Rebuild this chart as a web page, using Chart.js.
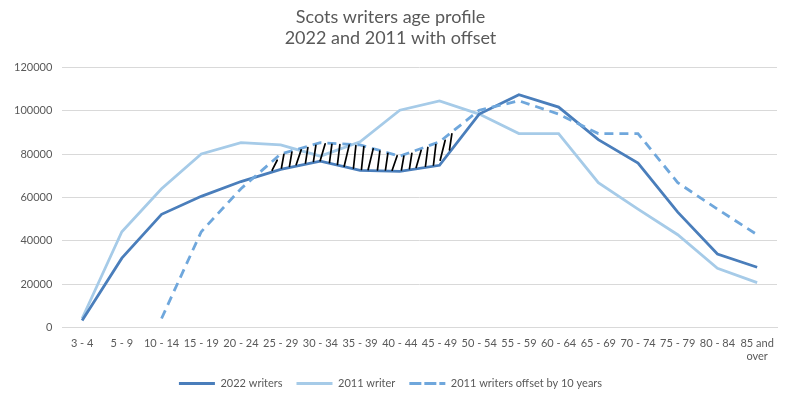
<!DOCTYPE html>
<html>
<head>
<meta charset="utf-8">
<script src="https://cdn.jsdelivr.net/npm/chart.js@4"></script>
<style>
  html, body { margin: 0; padding: 0; background: #fff; }
  #wrap { width: 787px; height: 399px; position: relative; }
</style>
</head>
<body>
<div id="wrap"><canvas id="ageChart"></canvas></div>
<script>
// ─── Data ─────────────────────────────────────────────────────────────────────
const AGE_BANDS = ['3 - 4','5 - 9','10 - 14','15 - 19','20 - 24','25 - 29','30 - 34','35 - 39',
  '40 - 44','45 - 49','50 - 54','55 - 59','60 - 64','65 - 69','70 - 74','75 - 79','80 - 84',['85 and','over']];

const WRITERS_2022 = [3300, 32000, 52200, 60500, 67300, 72900, 76700, 72500, 72000, 74800,
  98400, 107300, 101600, 86600, 75800, 53200, 33900, 27800];

const WRITERS_2011 = [4200, 44200, 64000, 80000, 85200, 84200, 79000, 85600, 100200, 104500,
  98400, 89400, 89400, 66800, 54600, 42800, 27300, 20700];

const WRITERS_2011_OFFSET = [null, null, 4200, 44200, 64000, 80000, 85200, 84200, 79000, 85600,
  100200, 104500, 98400, 89400, 89400, 66800, 54600, 42800];

const Y_TICKS = [0, 20000, 40000, 60000, 80000, 100000, 120000];

const FONT = 'Lato';
const TEXT = '#595959';

// ─── Hand-drawn hatching between offset line and 2022 line ───────────────────
const hatchPlugin = {
  id: 'hatch',
  afterDatasetsDraw(chart) {
    const top = chart.getDatasetMeta(2).data;
    const bot = chart.getDatasetMeta(0).data;
    const from = 5, to = 9;
    const { ctx } = chart;
    const yAt = (pts, x) => {
      for (let i = from - 1; i < to + 1; i++) {
        if (x >= pts[i].x && x <= pts[i + 1].x) {
          const t = (x - pts[i].x) / (pts[i + 1].x - pts[i].x);
          return pts[i].y + t * (pts[i + 1].y - pts[i].y);
        }
      }
      return pts[to].y;
    };
    ctx.save();
    ctx.strokeStyle = '#000';
    ctx.lineWidth = 1.7;
    ctx.lineCap = 'round';
    const x0 = bot[from].x - 6, x1 = bot[to].x + 12;
    let k = 0;
    for (let x = x0; x <= x1; x += 8, k++) {
      const yT = yAt(top, x) + 1;
      const yB = yAt(bot, x) - 1;
      if (yB - yT < 6) continue;
      const lean = (k % 3 === 0) ? 2.5 : 1.2;
      ctx.beginPath();
      ctx.moveTo(x - lean, yB);
      ctx.lineTo(x + lean, yT);
      ctx.stroke();
    }
    ctx.restore();
  }
};

// ─── Chart ────────────────────────────────────────────────────────────────────
const ctx = document.getElementById('ageChart').getContext('2d');
new Chart(ctx, {
  type: 'line',
  data: {
    labels: AGE_BANDS,
    datasets: [{
      label: '2022 writers',
      data: WRITERS_2022,
      borderColor: '#4a7ebb',
      backgroundColor: '#4a7ebb',
      borderWidth: 2.8,
      pointRadius: 0,
      tension: 0,
      order: 1
    }, {
      label: '2011 writer',
      data: WRITERS_2011,
      borderColor: '#a6cbe8',
      backgroundColor: '#a6cbe8',
      borderWidth: 2.8,
      pointRadius: 0,
      tension: 0,
      order: 2
    }, {
      label: '2011 writers offset by 10 years',
      data: WRITERS_2011_OFFSET,
      borderColor: '#6fa7dc',
      backgroundColor: '#6fa7dc',
      borderWidth: 2.8,
      borderDash: [9, 6],
      pointRadius: 0,
      tension: 0,
      spanGaps: false,
      order: 0
    }]
  },
  options: {
    responsive: true, maintainAspectRatio: false, animation: false,
    layout: { padding: { left: 4, right: 10, top: 4, bottom: 0 } },
    plugins: {
      title: {
        display: true,
        text: ['Scots writers age profile', '2022 and 2011 with offset'],
        color: TEXT,
        font: { family: FONT, size: 18, weight: 'normal' },
        lineHeight: 1.3,
        padding: { top: 2, bottom: 18 }
      },
      legend: {
        position: 'bottom',
        labels: {
          color: TEXT,
          font: { family: FONT, size: 11 },
          boxWidth: 36, boxHeight: 0, padding: 14,
          generateLabels(chart) {
            return chart.data.datasets.map((d, i) => ({
              text: d.label,
              strokeStyle: d.borderColor,
              fillStyle: d.borderColor,
              lineWidth: 3,
              lineDash: d.borderDash || [],
              fontColor: TEXT,
              datasetIndex: i
            }));
          }
        }
      },
      tooltip: { enabled: false }
    },
    scales: {
      x: {
        offset: true,
        grid: { display: false },
        border: { color: '#d9d9d9' },
        ticks: { color: TEXT, font: { family: FONT, size: 11 }, maxRotation: 0, autoSkip: false, padding: 1 }
      },
      y: {
        min: 0, max: 120000,
        afterBuildTicks(axis) { axis.ticks = Y_TICKS.map(v => ({ value: v })); },
        grid: { color: '#d9d9d9', drawTicks: false },
        border: { display: false },
        ticks: { color: TEXT, font: { family: FONT, size: 11 }, padding: 10, callback: v => String(v) }
      }
    }
  },
  plugins: [hatchPlugin]
});
</script>
</body>
</html>
